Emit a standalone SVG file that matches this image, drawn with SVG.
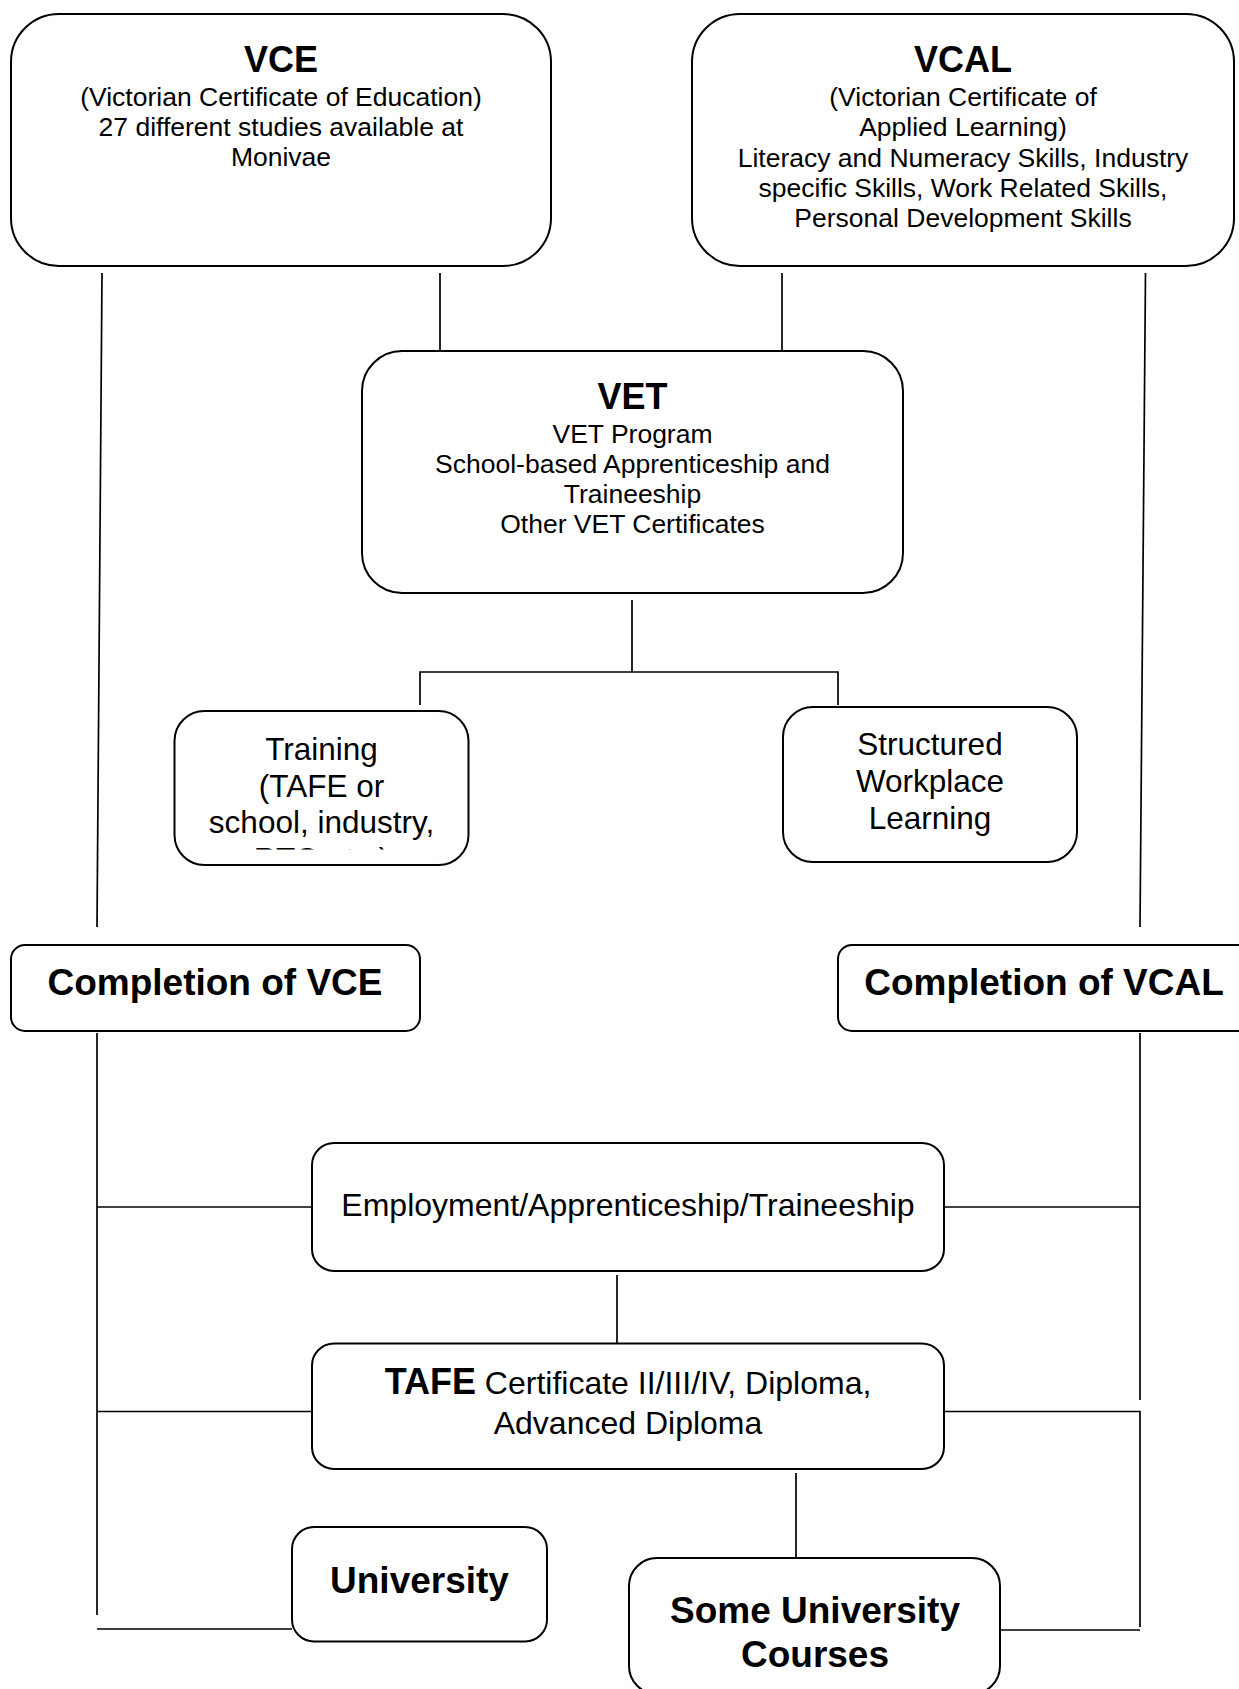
<svg xmlns="http://www.w3.org/2000/svg" width="1239" height="1689" viewBox="0 0 1239 1689">
<style>
  .box { fill: #ffffff; stroke: #000000; stroke-width: 2; }
  .ln { fill: none; stroke: #000000; stroke-width: 1.7; }
  text { font-family: "Liberation Sans", Arial, sans-serif; fill: #000000; text-anchor: middle; }
  .h { font-weight: bold; font-size: 36px; }
  .hb { font-weight: bold; font-size: 37px; }
  .s { font-size: 26.5px; }
  .m { font-size: 31.5px; }
  .e { font-size: 32px; }
</style>
<defs>
  <clipPath id="trainClip"><rect x="174" y="711" width="295" height="138.5"/></clipPath>
</defs>
<rect x="0" y="0" width="1239" height="1689" fill="#ffffff"/>

<g id="connectors">
  <path class="ln" d="M102,273 L97,927"/>
  <path class="ln" d="M440,273 V350"/>
  <path class="ln" d="M782,273 V350"/>
  <path class="ln" d="M1145.5,273 L1140,927"/>
  <path class="ln" d="M632,600 V672"/>
  <path class="ln" d="M420,705 V672 H838 V705"/>
  <path class="ln" d="M97,1033 V1615"/>
  <path class="ln" d="M97,1207 H312"/>
  <path class="ln" d="M97,1411.5 H312"/>
  <path class="ln" d="M97,1629 H292"/>
  <path class="ln" d="M1140,1033 V1400"/>
  <path class="ln" d="M944,1207 H1140"/>
  <path class="ln" d="M944,1411.5 H1140 V1627"/>
  <path class="ln" d="M1000,1630 H1140"/>
  <path class="ln" d="M617,1275 V1343"/>
  <path class="ln" d="M796,1473 V1558"/>
</g>

<g id="vce">
  <rect class="box" x="11" y="14" width="540" height="252" rx="48"/>
  <text class="h" x="281" y="72">VCE</text>
  <text class="s" x="281" y="106">(Victorian Certificate of Education)</text>
  <text class="s" x="281" y="136">27 different studies available at</text>
  <text class="s" x="281" y="166">Monivae</text>
</g>

<g id="vcal">
  <rect class="box" x="692" y="14" width="542" height="252" rx="48"/>
  <text class="h" x="963" y="72">VCAL</text>
  <text class="s" x="963" y="106">(Victorian Certificate of</text>
  <text class="s" x="963" y="136">Applied Learning)</text>
  <text class="s" x="963" y="166.5">Literacy and Numeracy Skills, Industry</text>
  <text class="s" x="963" y="197">specific Skills, Work Related Skills,</text>
  <text class="s" x="963" y="227">Personal Development Skills</text>
</g>

<g id="vet">
  <rect class="box" x="362" y="351" width="541" height="242" rx="40"/>
  <text class="h" x="632.5" y="409">VET</text>
  <text class="s" x="632.5" y="443">VET Program</text>
  <text class="s" x="632.5" y="473">School-based Apprenticeship and</text>
  <text class="s" x="632.5" y="503">Traineeship</text>
  <text class="s" x="632.5" y="533">Other VET Certificates</text>
</g>

<g id="training">
  <rect class="box" x="174.5" y="711" width="294" height="154" rx="30"/>
  <g clip-path="url(#trainClip)">
    <text class="m" x="321.5" y="760">Training</text>
    <text class="m" x="321.5" y="796.5">(TAFE or</text>
    <text class="m" x="321.5" y="833">school, industry,</text>
    <text class="m" x="321.5" y="870">RTO etc.)</text>
  </g>
</g>

<g id="structured">
  <rect class="box" x="783" y="707" width="294" height="155" rx="30"/>
  <text class="m" x="930" y="755">Structured</text>
  <text class="m" x="930" y="792">Workplace</text>
  <text class="m" x="930" y="829">Learning</text>
</g>

<g id="completion-vce">
  <rect class="box" x="11" y="945" width="409" height="86" rx="14"/>
  <text class="hb" x="215" y="995">Completion of VCE</text>
</g>

<g id="completion-vcal">
  <rect class="box" x="838" y="945" width="420" height="86" rx="14"/>
  <text class="hb" x="1044" y="995">Completion of VCAL</text>
</g>

<g id="employment">
  <rect class="box" x="312" y="1143" width="632" height="128" rx="22"/>
  <text class="e" x="628" y="1216">Employment/Apprenticeship/Traineeship</text>
</g>

<g id="tafe">
  <rect class="box" x="312" y="1343.5" width="632" height="125.5" rx="22"/>
  <text class="e" x="628" y="1394"><tspan font-weight="bold" font-size="36px">TAFE</tspan> Certificate II/III/IV, Diploma,</text>
  <text class="e" x="628" y="1434">Advanced Diploma</text>
</g>

<g id="university">
  <rect class="box" x="292" y="1527" width="255" height="114.5" rx="22"/>
  <text class="hb" x="419.5" y="1593">University</text>
</g>

<g id="some-university">
  <rect class="box" x="629" y="1558" width="371" height="136" rx="28"/>
  <text class="hb" x="815" y="1623">Some University</text>
  <text class="hb" x="815" y="1667">Courses</text>
</g>
</svg>
